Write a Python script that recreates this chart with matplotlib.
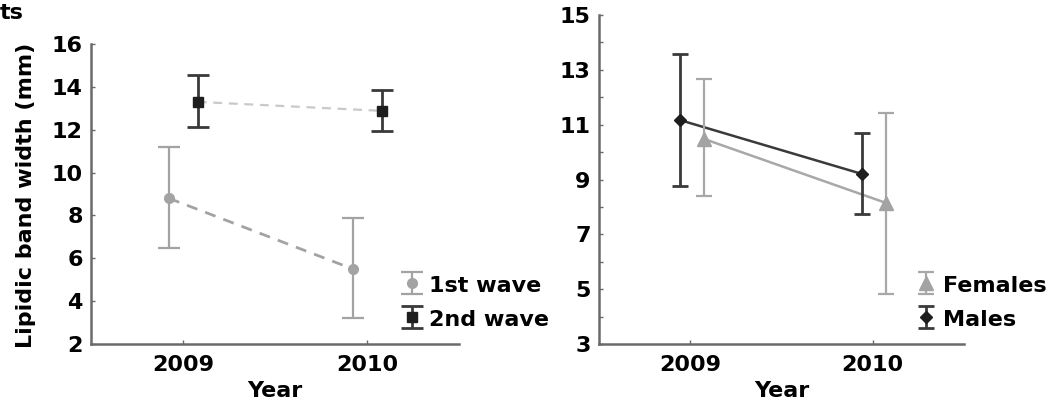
import matplotlib
matplotlib.use("Agg")
import matplotlib.pyplot as plt
from matplotlib.ticker import MultipleLocator

plt.rcParams['font.family'] = ['DejaVu Sans']
plt.rcParams['font.weight'] = 'bold'

# ---- data ----
years = [2009, 2010]
year_labels = ["2009", "2010"]

wave1_mean = [8.8, 5.5]
wave1_low = [6.5, 3.2]
wave1_high = [11.2, 7.88]

wave2_mean = [13.3, 12.88]
wave2_low = [12.13, 11.94]
wave2_high = [14.56, 13.86]

fem_mean = [10.48, 8.14]
fem_low = [8.4, 4.82]
fem_high = [12.66, 11.42]

male_mean = [11.17, 9.2]
male_low = [8.76, 7.74]
male_high = [13.58, 10.7]

left_yticks = [2, 4, 6, 8, 10, 12, 14, 16]
right_yticks = [3, 5, 7, 9, 11, 13, 15]

FS = 16
W, H = 1056, 401
fig = plt.figure(figsize=(W / 100, H / 100), dpi=100)

def ax_rect(x0, x1, ytop, ybot):
    return [x0 / W, 1 - ybot / H, (x1 - x0) / W, (ybot - ytop) / H]

axL = fig.add_axes(ax_rect(91, 459, 44, 344))
axR = fig.add_axes(ax_rect(599, 964, 15, 344))

def shift(xs, d):
    return [x + d for x in xs]

def yerr(mean, low, high):
    return [[m - l for m, l in zip(mean, low)], [h - m for m, h in zip(mean, high)]]

g1 = '#a3a3a3'
g2 = '#c9c9c9'
blk = '#1e1e1e'

# left panel
x1 = shift(years, -0.077)
x2 = shift(years, 0.08)
axL.plot(x1, wave1_mean, color=g1, lw=2, ls=(0, (4, 3)), zorder=1)
axL.plot(x2, wave2_mean, color=g2, lw=1.6, ls=(0, (4, 3)), zorder=1)
e1 = axL.errorbar(x1, wave1_mean, yerr=yerr(wave1_mean, wave1_low, wave1_high),
                  fmt='o', color=g1, ecolor=g1, ms=7, elinewidth=1.6, capsize=8,
                  capthick=1.6, label='1st wave', zorder=3)
e2 = axL.errorbar(x2, wave2_mean, yerr=yerr(wave2_mean, wave2_low, wave2_high),
                  fmt='s', color=blk, ecolor='#3a3a3a', ms=6.5, elinewidth=2, capsize=8,
                  capthick=2, label='2nd wave', zorder=3)

# right panel
xm = shift(years, -0.058)
xf = shift(years, 0.075)
axR.plot(xm, male_mean, color='#3a3a3a', lw=1.8, zorder=1)
axR.plot(xf, fem_mean, color='#a8a8a8', lw=1.8, zorder=1)
ef = axR.errorbar(xf, fem_mean, yerr=yerr(fem_mean, fem_low, fem_high),
                  fmt='^', color='#a3a3a3', ecolor='#a8a8a8', ms=10, elinewidth=1.6, capsize=6,
                  capthick=1.6, label='Females', zorder=3)
em = axR.errorbar(xm, male_mean, yerr=yerr(male_mean, male_low, male_high),
                  fmt='D', color=blk, ecolor='#3a3a3a', ms=6.5, elinewidth=2, capsize=6,
                  capthick=2, label='Males', zorder=3)

for ax in (axL, axR):
    ax.set_xlim(2008.5, 2010.5)
    ax.set_xticks(years)
    ax.set_xticklabels(year_labels)
    for s in ('top', 'right'):
        ax.spines[s].set_visible(False)
    for s in ('left', 'bottom'):
        ax.spines[s].set_color('#6a6a6a')
        ax.spines[s].set_linewidth(1.8)
    ax.tick_params(axis='both', direction='in', length=3, width=1, color='#6a6a6a',
                   labelsize=FS, labelcolor='black')
    ax.tick_params(axis='y', pad=6)
    ax.tick_params(axis='x', pad=8)
    ax.set_xlabel('Year', fontsize=FS, fontweight='bold', labelpad=4)
    for lab in ax.get_xticklabels() + ax.get_yticklabels():
        lab.set_fontweight('bold')

axL.set_ylim(2, 16)
axL.set_yticks(left_yticks)
axL.set_ylabel('Lipidic band width (mm)', fontsize=FS, fontweight='bold')
axL.yaxis.set_label_coords(-0.15, 0.497)

axR.set_ylim(3, 15)
axR.set_yticks(right_yticks)
axR.yaxis.set_minor_locator(MultipleLocator(1))
axR.tick_params(axis='y', which='minor', direction='in', length=3, width=1, color='#6a6a6a')

for ax, hx in ((axL, 400), (axR, 914)):
    leg = ax.legend(loc='center left', bbox_to_anchor=(hx / W, 1 - 302 / H),
                    bbox_transform=fig.transFigure, frameon=False,
                    handlelength=1.1, handletextpad=0.2, labelspacing=0.55,
                    handleheight=1.0, borderpad=0, borderaxespad=0,
                    prop={'weight': 'bold', 'size': FS})

fig.text(0.0, 1 - 3 / H, 'ts', fontsize=FS, fontweight='bold', ha='left', va='top')

fig.savefig('out.png', dpi=100)
